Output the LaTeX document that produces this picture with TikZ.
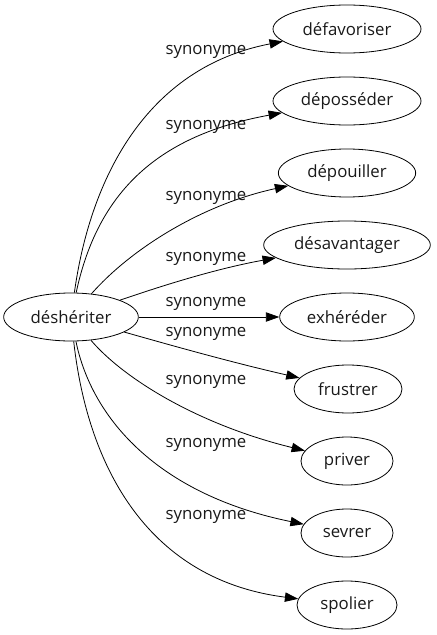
\documentclass[tikz,border=0pt]{standalone}
\usepackage{fontspec}
\setmainfont{Open Sans}
\usetikzlibrary{shapes.geometric,arrows.meta}
\begin{document}
\begin{tikzpicture}[x=0.75pt,y=-0.75pt,
  every node/.style={font=\fontsize{12.6}{15}\selectfont, text=black!90},
  term/.style={draw, ellipse, line width=0.6pt, inner sep=0pt, minimum height=36pt},
  lbl/.style={inner sep=0pt},
  syn/.style={draw, line width=0.6pt, -{Triangle[length=10pt,width=7pt]}}]
\useasboundingbox (0,0) rectangle (436,635);
\node[term, minimum width=101pt] (src) at (71,317) {déshériter};
\node[term, minimum width=111pt] (t1) at (347,29) {défavoriser};
\node[term, minimum width=111pt] (t2) at (347,101) {déposséder};
\node[term, minimum width=103pt] (t3) at (347,173) {dépouiller};
\node[term, minimum width=125pt] (t4) at (347,245) {désavantager};
\node[term, minimum width=101pt] (t5) at (347,317) {exhéréder};
\node[term, minimum width=81pt] (t6) at (348,389) {frustrer};
\node[term, minimum width=69pt] (t7) at (347,461) {priver};
\node[term, minimum width=69pt] (t8) at (347,533) {sevrer};
\node[term, minimum width=75pt] (t9) at (347,605) {spolier};
\node[lbl] (l1) at (206,52) {synonyme};
\node[lbl] (l2) at (206,127) {synonyme};
\node[lbl] (l3) at (206,198) {synonyme};
\node[lbl] (l4) at (206,259) {synonyme};
\node[lbl] (l5) at (206,304) {synonyme};
\node[lbl] (l6) at (206,334) {synonyme};
\node[lbl] (l7) at (206,382) {synonyme};
\node[lbl] (l8) at (206,445) {synonyme};
\node[lbl] (l9) at (206,517) {synonyme};
\draw[syn] (src) .. controls (90,180) and (145,68) .. (t1);
\draw[syn] (src) .. controls (98,190) and (160,135) .. (t2);
\draw[syn] (src) .. controls (130,250) and (200,205) .. (t3);
\draw[syn] (src) .. controls (170,283) and (220,268) .. (t4);
\draw[syn] (src) -- (t5);
\draw[syn] (src) .. controls (170,345) and (230,362) .. (t6);
\draw[syn] (src) .. controls (125,380) and (200,425) .. (t7);
\draw[syn] (src) .. controls (92,420) and (160,495) .. (t8);
\draw[syn] (src) .. controls (88,470) and (150,580) .. (t9);
\end{tikzpicture}
\end{document}
